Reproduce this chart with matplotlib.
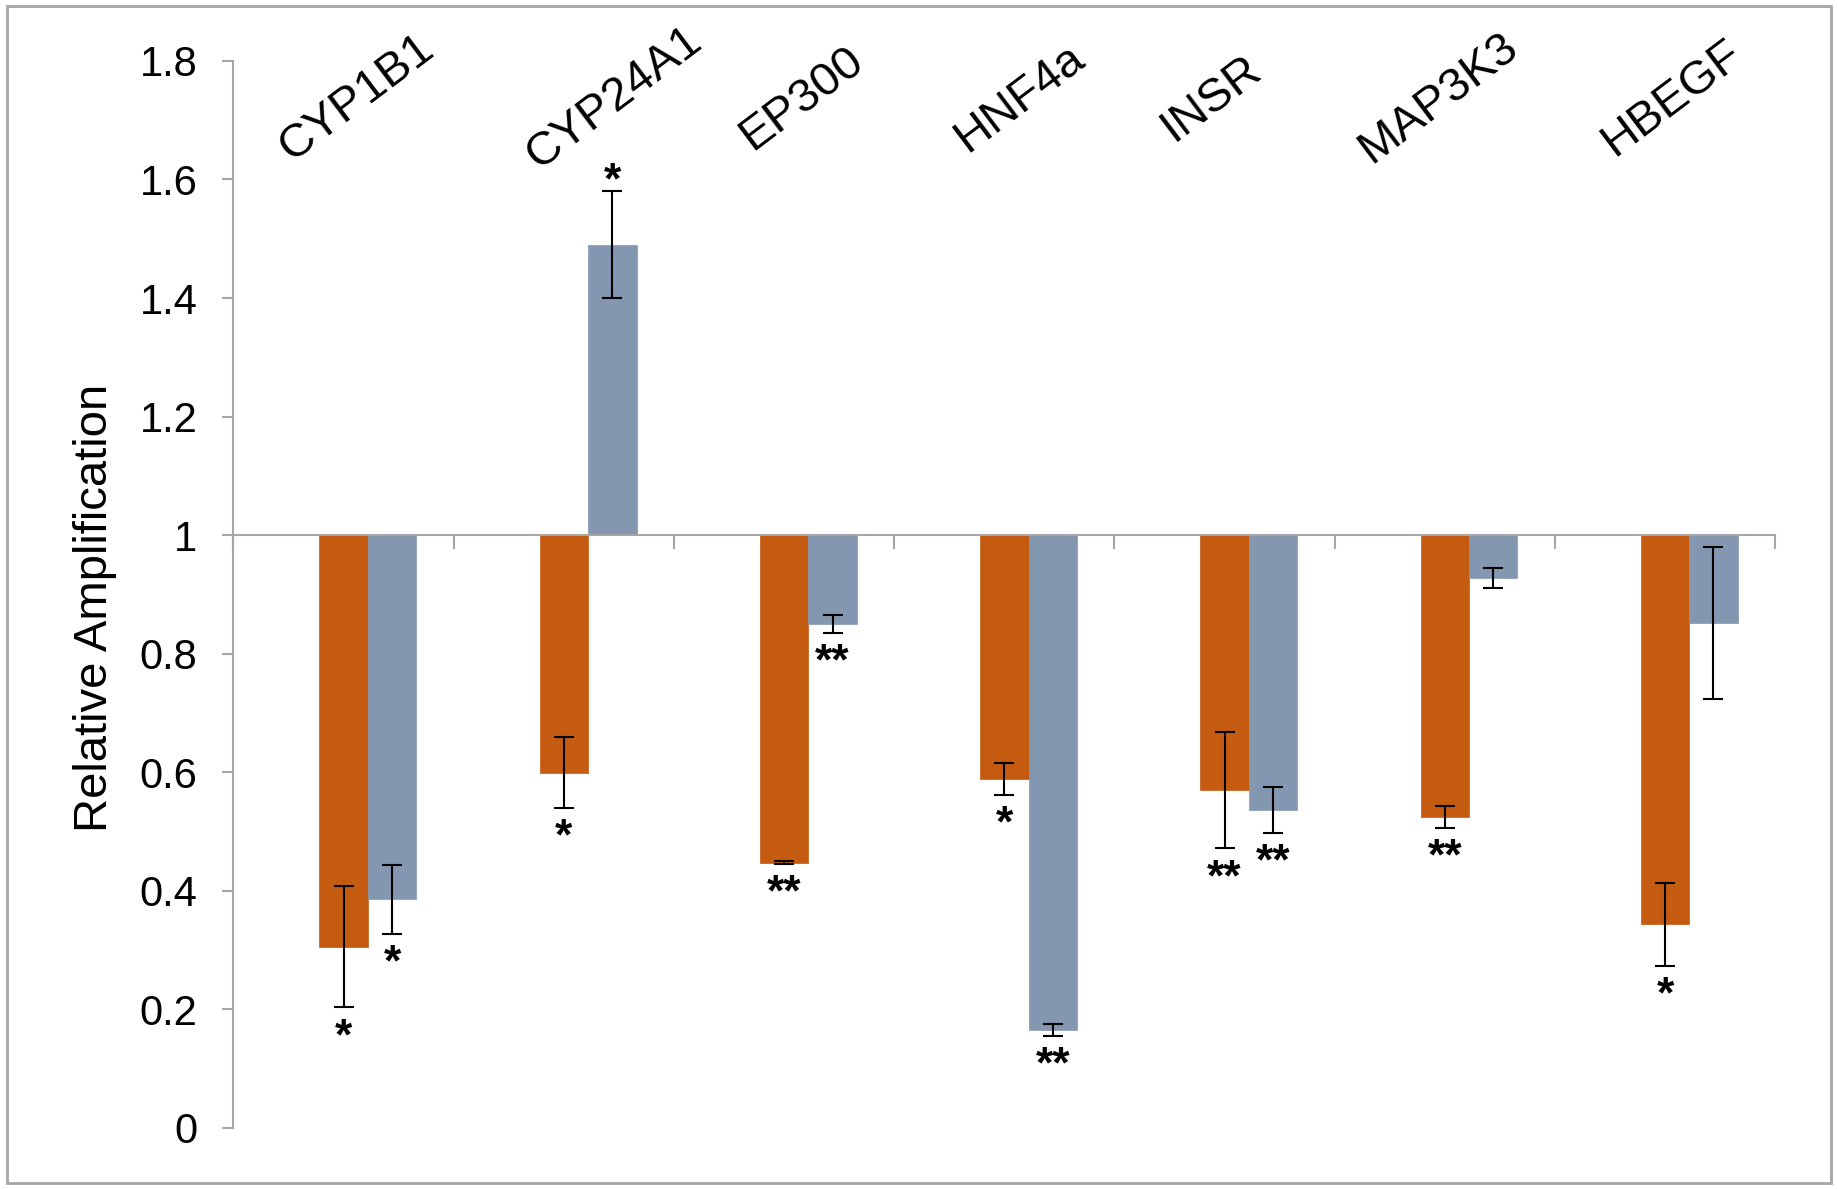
# -*- coding: utf-8 -*-

# %% Imports
import matplotlib.pyplot as plt
from matplotlib.patches import Rectangle
import numpy as np

# %% Data
genes = ['CYP1B1', 'CYP24A1', 'EP300', 'HNF4a', 'INSR', 'MAP3K3', 'HBEGF']
orange_vals = [0.305, 0.599, 0.447, 0.588, 0.569, 0.524, 0.343]
orange_err = [0.102, 0.060, 0.002, 0.027, 0.098, 0.018, 0.070]
orange_sig = ['*', '*', '**', '*', '**', '**', '*']
blue_vals = [0.385, 1.490, 0.850, 0.165, 0.536, 0.928, 0.851]
blue_err = [0.058, 0.090, 0.015, 0.010, 0.039, 0.017, 0.128]
blue_sig = ['*', '*', '**', '**', '**', '', '']
yticks = [0, 0.2, 0.4, 0.6, 0.8, 1, 1.2, 1.4, 1.6, 1.8]

# label layout (hand placed text boxes in the original)
label_dx = [0.06, 0.23, 0.08, 0.07, -0.06, -0.03, 0.03]

# %% Style
plt.rcParams['font.family'] = ['Liberation Sans', 'DejaVu Sans']
orange = '#C55A11'
blue = '#8497B0'
grey = '#A6A6A6'
width = 0.22

# %% Plot
fig = plt.figure(figsize=(18.37, 11.89), dpi=100)
ax = fig.add_axes([0.1271, 0.0517, 0.8392, 0.8970])

x = np.arange(len(genes))
ov = np.array(orange_vals)
bv = np.array(blue_vals)
ax.bar(x, ov - 1, width, bottom=1, color=orange, edgecolor=orange,
       linewidth=0.5)
ax.bar(x + width, bv - 1, width, bottom=1, color=blue, edgecolor=blue,
       linewidth=0.5)
err_kw = dict(fmt='none', ecolor='black', elinewidth=1.5, capsize=7.5,
              capthick=1.5)
ax.errorbar(x, ov, yerr=orange_err, **err_kw)
ax.errorbar(x + width, bv, yerr=blue_err, **err_kw)

# significance stars
for xs, vals, errs, sigs in [(x, ov, orange_err, orange_sig),
                             (x + width, bv, blue_err, blue_sig)]:
    for xi, v, e, s in zip(xs, vals, errs, sigs):
        if not s:
            continue
        if v >= 1:
            ax.annotate(s, (xi, v + e), xytext=(0, -1.5),
                        textcoords='offset points', ha='center',
                        va='baseline', fontsize=32, fontweight='bold')
        else:
            ax.annotate(s, (xi, v - e), xytext=(0, -7),
                        textcoords='offset points', ha='center', va='top',
                        fontsize=32, fontweight='bold')

# axes
ax.set_xlim(-0.5, len(genes) - 0.5)
ax.set_ylim(0, 1.8)
ax.set_yticks(yticks)
ax.set_yticklabels(['{:g}'.format(t) for t in yticks])
ax.spines['top'].set_visible(False)
ax.spines['right'].set_visible(False)
ax.spines['bottom'].set_position(('data', 1))
for sp in ['left', 'bottom']:
    ax.spines[sp].set_color(grey)
    ax.spines[sp].set_linewidth(1.5)
ax.set_xticks(np.arange(len(genes) + 1) - 0.5)
ax.set_xticklabels([])
ax.tick_params(axis='x', direction='out', length=10, width=1.5, color=grey)
ax.tick_params(axis='y', direction='out', length=8, width=1.5, color=grey,
               pad=18, labelsize=30)
ax.set_ylabel('Relative Amplification', fontsize=34)
ax.yaxis.set_label_coords(-0.0756, 0.487)

# category labels along the top
for i, (g, dx) in enumerate(zip(genes, label_dx)):
    ax.text(i + dx, 1.737, g, rotation=37, ha='center', va='center',
            fontsize=34)

# chart border
fig.patches.append(Rectangle((7 / 1837, 6 / 1189), 1824 / 1837, 1177 / 1189,
                             transform=fig.transFigure, fill=False,
                             edgecolor=grey, linewidth=2))

plt.savefig('out.png', dpi=100)
plt.close(fig)
